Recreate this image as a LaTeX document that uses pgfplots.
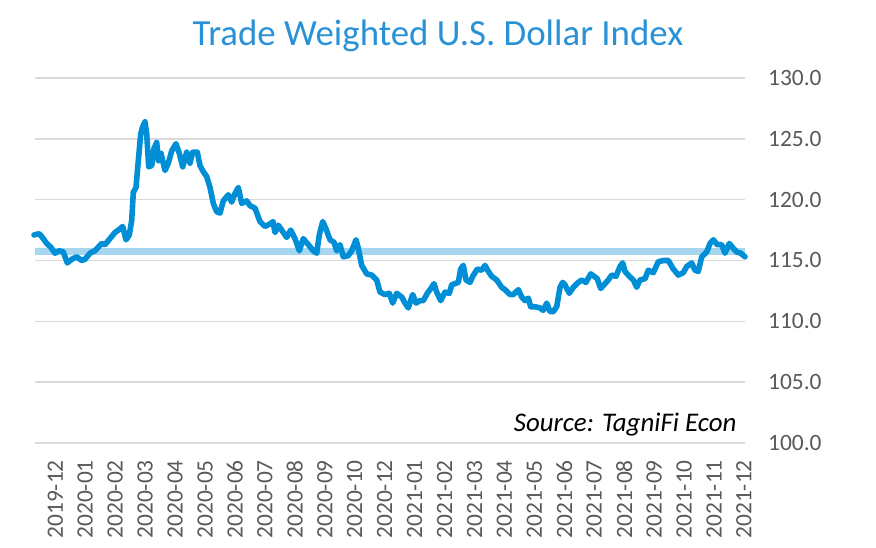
\documentclass[border=0pt]{standalone}
\usepackage{pgfplots}
\pgfplotsset{compat=1.18}
\usepackage{fontspec}
\setmainfont{Carlito}
\definecolor{linec}{RGB}{0,143,215}
\definecolor{bandc}{RGB}{166,214,240}
\definecolor{gridc}{RGB}{217,217,217}
\definecolor{titlec}{RGB}{41,146,214}
\definecolor{tickc}{RGB}{89,89,89}
\begin{document}
\begin{tikzpicture}[x=1bp,y=1bp]
\path[use as bounding box] (0,0) rectangle (876,548);
\node[anchor=base, text=titlec, font=\fontsize{37}{37}\selectfont] at (438,502) {Trade Weighted U.S. Dollar Index};
\begin{axis}[
  at={(35bp,105bp)}, anchor=south west,
  scale only axis, width=710bp, height=365bp,
  xmin=35, xmax=745, ymin=100, ymax=130,
  axis line style={draw=none},
  major tick length=0pt,
  ytick={100,105,110,115,120,125,130},
  ymajorgrids, grid style={gridc, line width=1.5bp},
  yticklabel pos=right,
  yticklabel style={font=\fontsize{23.5}{23.5}\selectfont, text=tickc, anchor=west, inner sep=0pt, xshift=23bp,
    /pgf/number format/.cd, fixed, fixed zerofill, precision=1, assume math mode=true},
  xtick={55.3,85.2,115.2,145.1,175.1,205.0,234.9,264.9,294.8,324.8,354.7,384.6,414.6,444.5,474.5,504.4,534.3,564.3,594.2,624.2,654.1,684.0,714.0,743.9},
  xticklabels={2019-12,2020-01,2020-02,2020-03,2020-04,2020-05,2020-06,2020-07,2020-08,2020-09,2020-10,2020-12,2021-01,2021-02,2021-03,2021-04,2021-05,2021-06,2021-07,2021-08,2021-09,2021-10,2021-11,2021-12},
  xticklabel style={font=\fontsize{23.5}{23.5}\selectfont, text=tickc, yshift=-17bp, rotate=90, anchor=east, inner sep=0pt},
  clip=false,
]
\addplot[bandc, line width=7bp] coordinates {(35,115.7) (745,115.7)};
\addplot[linec, line width=5.6bp, line join=round, line cap=round] coordinates {
(34,117.1) (39.3,117.2) (43.3,116.8) (46.7,116.4) (50.7,116.1) (55,115.6) (59.3,115.8) (63.3,115.7)
(67.3,114.8) (71.7,115.1) (76.7,115.3) (81.7,115.0) (85,115.1) (90,115.6) (95,115.8) (98.3,116.1)
(101.7,116.4) (105,116.3) (110,116.8) (115,117.3) (120,117.6) (122.7,117.8) (126,116.7) (129.3,117.1)
(131.7,118.3) (133.3,120.6) (136,121.0) (138.3,123.2) (140.7,125.4) (142.7,126.0) (145,126.4) (146.7,125.4)
(148.7,122.7) (151.7,122.8) (154,124.2) (156.7,124.7) (158.5,123.2) (161,123.8) (165,122.4) (168.3,123.0)
(171.7,124.0) (176,124.6) (179.3,123.8) (182.7,122.7) (186.7,123.9) (190,123.0) (192.7,123.9) (197.3,123.9)
(200,122.8) (203.3,122.3) (206.7,121.9) (210,121.0) (213.3,119.7) (216.7,119.0) (220,118.9) (223.3,119.9)
(228.3,120.4) (231.7,119.8) (235,120.5) (238.3,121.0) (241.7,119.7) (246.7,119.9) (250,119.5) (255,119.3)
(260,118.2) (265,117.8) (270,118.0) (273,118.2) (275,117.3) (278.3,117.9) (283.3,117.3) (286.7,116.9)
(290.7,117.5) (295,116.8) (299.3,115.8) (303.3,116.8) (308.3,116.3) (313.3,115.8) (316.7,115.6) (319.3,117.1)
(322.7,118.2) (326,117.6) (330,116.7) (334,116.5) (336.7,115.8) (340,116.3) (343.3,115.3) (348.3,115.4)
(351.7,115.8) (356,116.7) (358.3,116.0) (361.7,114.6) (366.7,113.9) (371.7,113.8) (376.7,113.4) (380,112.4)
(385,112.2) (389.3,112.3) (392.7,111.5) (396.7,112.3) (401.7,112.0) (405,111.5) (408.3,111.1) (412.7,112.2)
(416,111.5) (420,111.7) (423.3,111.7) (427.3,112.3) (431.7,112.8) (434,113.1) (436.7,112.4) (440.7,111.7)
(445,112.4) (449.3,112.3) (451.7,113.0) (455,113.1) (458.3,113.2) (460.7,114.3) (463.3,114.6) (466,113.4)
(470,113.2) (472.7,113.7) (477.3,114.3) (481.7,114.2) (485,114.6) (488.3,114.1) (491.7,113.7) (496.7,113.4)
(501.7,112.8) (505,112.6) (510,112.2) (513.3,112.2) (518.3,112.6) (521.7,112.0) (525,111.7) (528.3,111.9)
(530.7,111.2) (535,111.2) (540,111.1) (543.3,110.9) (546.7,111.5) (550,110.8) (553.3,110.8) (556.7,111.2)
(560,112.8) (562.7,113.2) (565,113.0) (569.3,112.3) (573.3,112.8) (578.3,113.2) (581.7,113.4) (586,113.2)
(590.7,113.9) (594,113.7) (597.3,113.5) (600.7,112.7) (604,113.0) (608.3,113.4) (611.7,113.8) (616,113.7)
(620,114.5) (622.7,114.8) (625,114.1) (629.3,113.7) (633.3,113.4) (636.7,112.8) (640,113.4) (645,113.5)
(648.3,114.2) (653.3,114.0) (658.3,114.9) (663.3,115.0) (668.3,115.0) (673.3,114.3) (678.3,113.8) (683.3,114.0)
(686.7,114.5) (691.7,114.8) (695,114.2) (698.3,114.1) (701.7,115.3) (706.7,115.7) (710,116.4) (713.3,116.7)
(717.3,116.3) (721.7,116.3) (725,115.6) (729.3,116.4) (733.3,116.0) (736.7,115.7) (740.7,115.6) (745,115.3)
};
\end{axis}
\node[anchor=base east, font=\fontsize{27}{27}\selectfont\itshape] at (740,116) {Source: TagniFi Econ};
\end{tikzpicture}
\end{document}
